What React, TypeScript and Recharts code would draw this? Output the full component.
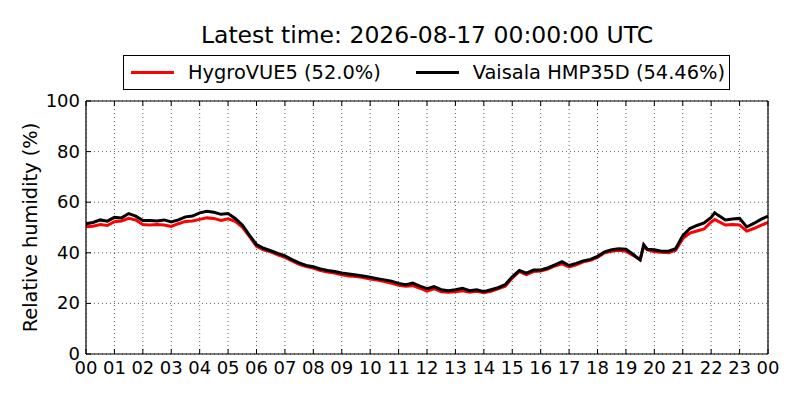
import React from "react"
import { CartesianGrid, Line, LineChart, XAxis, YAxis } from "recharts"

// hours since 00 UTC
const hours = [
  0, 0.25, 0.5, 0.75, 1, 1.25, 1.5, 1.75, 2, 2.25, 2.5, 2.75, 3, 3.25, 3.5, 3.75,
  4, 4.25, 4.5, 4.75, 5, 5.25, 5.5, 5.75, 6, 6.25, 6.5, 6.75, 7, 7.25, 7.5, 7.75,
  8, 8.25, 8.5, 8.75, 9, 9.25, 9.5, 9.75, 10, 10.25, 10.5, 10.75, 11, 11.25, 11.5, 11.75,
  12, 12.25, 12.5, 12.75, 13, 13.25, 13.5, 13.75, 14, 14.25, 14.5, 14.75, 15, 15.25, 15.5, 15.75,
  16, 16.25, 16.5, 16.75, 17, 17.25, 17.5, 17.75, 18, 18.25, 18.5, 18.75, 19, 19.25, 19.5, 19.625,
  19.75, 20, 20.25, 20.5, 20.75, 21, 21.25, 21.5, 21.75, 22, 22.125, 22.25, 22.5, 22.75, 23, 23.25,
  23.5, 23.75, 24,
]

const vaisala = [
  51.5, 52.0, 53.0, 52.5, 54.0, 53.8, 55.5, 54.5, 52.8, 52.8, 52.6, 53.0, 52.2, 53.0, 54.2, 54.5,
  55.8, 56.4, 56.0, 55.2, 55.5, 53.6, 51.0, 47.0, 43.2, 41.8, 40.8, 39.8, 38.8, 37.3, 36.0, 35.0,
  34.5, 33.6, 33.0, 32.6, 32.0, 31.6, 31.2, 30.8, 30.3, 29.8, 29.3, 28.8, 27.9, 27.4, 28.0, 26.8,
  25.8, 26.6, 25.4, 25.0, 25.4, 26.0, 25.0, 25.4, 24.6, 25.4, 26.2, 27.4, 30.5, 33.0, 32.0, 33.2,
  33.2, 34.0, 35.2, 36.5, 35.0, 35.8, 36.8, 37.4, 38.6, 40.4, 41.2, 41.6, 41.4, 39.4, 37.2, 43.2,
  41.4, 41.2, 40.6, 40.6, 41.6, 46.8, 49.6, 50.8, 51.8, 54.0, 55.8, 54.8, 53.0, 53.4, 53.6, 50.2,
  51.6, 53.2, 54.46,
]

const hygrovue = [
  50.3, 50.5, 51.2, 50.8, 52.3, 52.6, 53.6, 53.0, 51.2, 51.0, 51.2, 51.0, 50.4, 51.5, 52.4, 52.6,
  53.2, 53.8, 53.6, 52.8, 53.4, 52.4, 50.2, 46.5, 42.6, 41.2, 40.4, 39.2, 38.2, 36.8, 35.4, 34.6,
  34.0, 33.0, 32.4, 32.0, 31.3, 30.8, 30.6, 30.2, 29.6, 29.2, 28.6, 28.0, 27.2, 26.8, 27.0, 26.0,
  24.8, 25.8, 24.6, 24.4, 24.6, 25.0, 24.4, 24.8, 24.2, 24.8, 25.8, 26.8, 30.0, 32.6, 31.4, 32.6,
  32.8, 33.6, 34.8, 35.6, 34.4, 35.2, 36.4, 37.0, 38.2, 40.0, 40.6, 41.0, 40.6, 39.0, 37.2, 42.4,
  41.2, 40.4, 40.2, 40.0, 41.0, 45.6, 47.8, 48.6, 49.4, 52.2, 53.2, 52.4, 51.0, 51.2, 51.0, 48.6,
  49.6, 50.8, 52.0,
]

const hourTicks = [0, 1, 2, 3, 4, 5, 6, 7, 8, 9, 10, 11, 12, 13, 14, 15, 16, 17, 18, 19, 20, 21, 22, 23, 24]
const rhTicks = [0, 20, 40, 60, 80, 100]

const titleText = "Latest time: 2026-08-17 00:00:00 UTC"
const seriesNames = ["HygroVUE5 (52.0%)", "Vaisala HMP35D (54.46%)"]

const data = hours.map((h, i) => ({ h, hygro: hygrovue[i], vaisala: vaisala[i] }))

const FONT = "DejaVu Sans"

const fmtHour = (v: number) => String(v % 24).padStart(2, "0")

const BottomTick = (props: any) => {
  const { x, y, payload } = props
  return (
    <g>
      <line x1={x} x2={x} y1={y} y2={y - 5} stroke="#000" />
      <text x={x} y={y + 20} textAnchor="middle" fontSize={18} fontFamily={FONT} fill="#000">
        {fmtHour(payload.value)}
      </text>
    </g>
  )
}

const TopTick = (props: any) => {
  const { x, y } = props
  return <line x1={x} x2={x} y1={y} y2={y + 5} stroke="#000" />
}

const LeftTick = (props: any) => {
  const { x, y, payload } = props
  return (
    <g>
      <line x1={x} x2={x + 5} y1={y} y2={y} stroke="#000" />
      <text x={x - 6} y={y + 6} textAnchor="end" fontSize={18} fontFamily={FONT} fill="#000">
        {payload.value}
      </text>
    </g>
  )
}

const RightTick = (props: any) => {
  const { x, y } = props
  return <line x1={x} x2={x - 5} y1={y} y2={y} stroke="#000" />
}

const YLabel = (props: any) => {
  const vb = props.viewBox
  const cy = vb.y + vb.height / 2
  return (
    <text
      x={37}
      y={cy}
      transform={`rotate(-90, 37, ${cy})`}
      textAnchor="middle"
      fontSize={19.4}
      fontFamily={FONT}
      fill="#000"
    >
      Relative humidity (%)
    </text>
  )
}

const LegendItem = ({ color, label }: { color: string; label: string }) => (
  <div style={{ display: "flex", alignItems: "center" }}>
    <div style={{ width: 43, height: 0, borderTop: `3px solid ${color}`, marginRight: 14 }} />
    <span>{label}</span>
  </div>
)

export default function App() {
  return (
    <div
      style={{
        position: "absolute",
        left: 0,
        top: 0,
        width: 800,
        height: 400,
        background: "#fff",
        fontFamily: FONT,
      }}
    >
      <div
        style={{
          position: "absolute",
          left: 86,
          width: 682,
          top: 21,
          textAlign: "center",
          fontSize: 23.5,
          lineHeight: "28px",
        }}
      >
        {titleText}
      </div>
      <div
        style={{
          position: "absolute",
          left: 123,
          top: 55,
          width: 607,
          height: 35,
          border: "1px solid #000",
          display: "flex",
          alignItems: "center",
          paddingLeft: 7,
          gap: 35,
          fontSize: 19.4,
          boxSizing: "border-box",
        }}
      >
        <LegendItem color="#ff0000" label={seriesNames[0]} />
        <LegendItem color="#000000" label={seriesNames[1]} />
      </div>
      <LineChart
        width={800}
        height={400}
        data={data}
        margin={{ top: 100, right: 31, bottom: 0, left: 0 }}
        style={{ position: "absolute", left: 0, top: 0 }}
      >
        <CartesianGrid stroke="#333" strokeWidth={0.8} strokeDasharray="1 3" />
        <XAxis
          dataKey="h"
          type="number"
          domain={[0, 24]}
          ticks={hourTicks}
          interval={0}
          height={46}
          tickSize={0}
          tickMargin={0}
          tick={<BottomTick />}
          axisLine={{ stroke: "#000", strokeWidth: 1.2 }}
          tickLine={false}
        />
        <XAxis
          xAxisId="top"
          orientation="top"
          dataKey="h"
          type="number"
          domain={[0, 24]}
          ticks={hourTicks}
          interval={0}
          height={1}
          tickSize={0}
          tickMargin={0}
          tick={<TopTick />}
          axisLine={{ stroke: "#000", strokeWidth: 1.2 }}
          tickLine={false}
        />
        <YAxis
          type="number"
          domain={[0, 100]}
          ticks={rhTicks}
          interval={0}
          width={86}
          tickSize={0}
          tickMargin={0}
          tick={<LeftTick />}
          axisLine={{ stroke: "#000", strokeWidth: 1.2 }}
          tickLine={false}
          label={{ content: <YLabel /> }}
        />
        <YAxis
          yAxisId="right"
          orientation="right"
          type="number"
          domain={[0, 100]}
          ticks={rhTicks}
          interval={0}
          width={1}
          tickSize={0}
          tickMargin={0}
          tick={<RightTick />}
          axisLine={{ stroke: "#000", strokeWidth: 1.2 }}
          tickLine={false}
        />
        <Line
          dataKey="hygro"
          type="linear"
          stroke="#ff0000"
          strokeWidth={3}
          dot={false}
          isAnimationActive={false}
        />
        <Line
          dataKey="vaisala"
          type="linear"
          stroke="#000000"
          strokeWidth={3}
          dot={false}
          isAnimationActive={false}
        />
      </LineChart>
    </div>
  )
}
